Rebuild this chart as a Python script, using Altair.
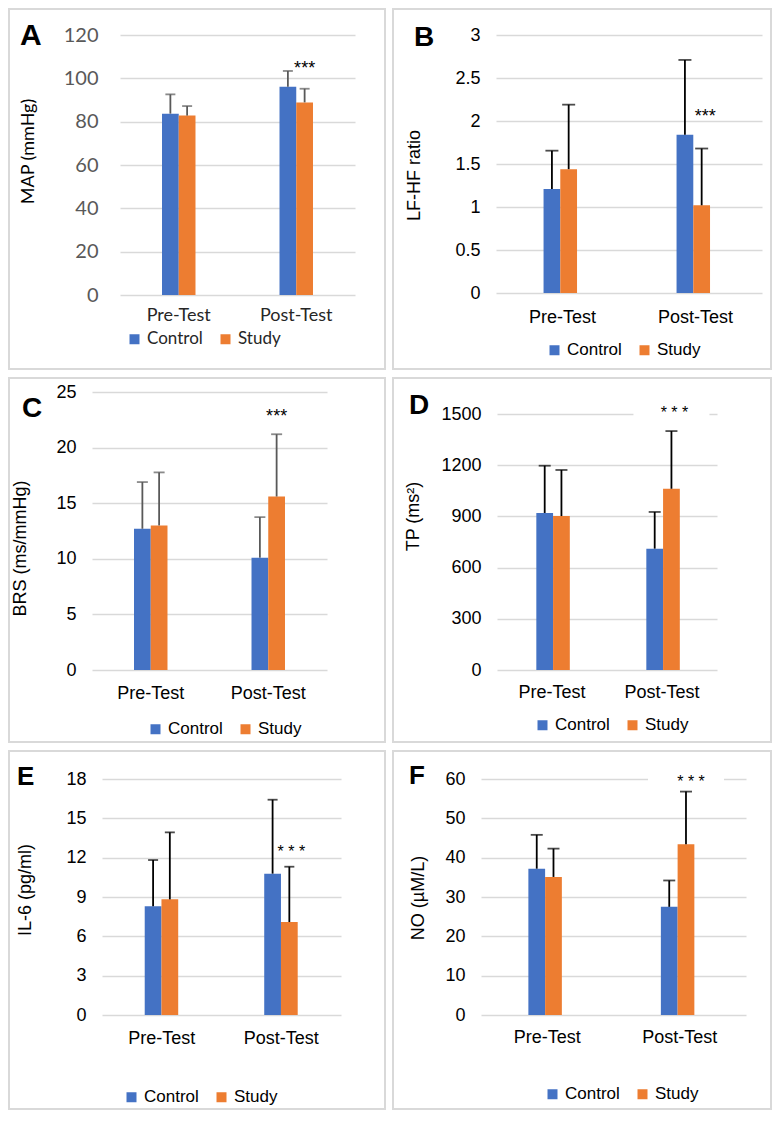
import altair as alt
import pandas as pd

phases = ["Pre-Test", "Post-Test"]
groups = ["Control", "Study"]
bar_colors = ["#4472C4", "#ED7D31"]

# Panel A: MAP (mmHg)
map_control = [83.7, 96.1]
map_study = [82.8, 88.9]
map_control_sd = [8.9, 7.3]
map_study_sd = [4.4, 6.3]
map_ticks = [0, 20, 40, 60, 80, 100, 120]
map_star = 102

# Panel B: LF-HF ratio
lfhf_control = [1.21, 1.84]
lfhf_study = [1.44, 1.02]
lfhf_control_sd = [0.445, 0.87]
lfhf_study_sd = [0.75, 0.66]
lfhf_ticks = [0, 0.5, 1, 1.5, 2, 2.5, 3]
lfhf_star = 1.99

# Panel C: BRS (ms/mmHg)
brs_control = [12.7, 10.1]
brs_study = [13.0, 15.6]
brs_control_sd = [4.2, 3.65]
brs_study_sd = [4.77, 5.6]
brs_ticks = [0, 5, 10, 15, 20, 25]
brs_star = 22.3

# Panel D: TP (ms2)
tp_control = [920, 711]
tp_study = [902, 1062]
tp_control_sd = [277, 215]
tp_study_sd = [270, 338]
tp_ticks = [0, 300, 600, 900, 1200, 1500]
tp_star = 1477
tp_box = [1450, 1590]

# Panel E: IL-6 (pg/ml)
il6_control = [8.29, 10.78]
il6_study = [8.82, 7.09]
il6_control_sd = [3.53, 5.64]
il6_study_sd = [5.11, 4.22]
il6_ticks = [0, 3, 6, 9, 12, 15, 18]
il6_star = 12.05

# Panel F: NO (uM/L)
no_control = [37.2, 27.5]
no_study = [35.1, 43.4]
no_control_sd = [8.6, 6.7]
no_study_sd = [7.2, 13.4]
no_ticks = [0, 10, 20, 30, 40, 50, 60]
no_star = 58.0
no_box = [57.8, 64]


def panel(ctrl, stud, ctrl_sd, stud_sd, ticks, star_y, box, title, letter, g):
    df = pd.DataFrame({
        "phase": [p for p in phases for _ in groups],
        "group": groups * 2,
        "mean": [ctrl[0], stud[0], ctrl[1], stud[1]],
        "sd": [ctrl_sd[0], stud_sd[0], ctrl_sd[1], stud_sd[1]],
    })
    df["top"] = df["mean"] + df["sd"]
    star_df = pd.DataFrame({"phase": ["Post-Test"], "group": ["Study"], "y": [star_y]})
    one = pd.DataFrame({"k": [0]})

    dx, dy, w, h, W, H = g["dx"], g["dy"], g["w"], g["h"], g["W"], g["H"]

    yscale = alt.Scale(domain=[ticks[0], ticks[-1]], range=[dy + h, dy], nice=False,
                       zero=True)
    xaxis = alt.Axis(title=None, labelAngle=0, domain=False, ticks=False, grid=False,
                     offset=-(H - dy - h),
                     labelPadding=g["xlp"], labelFont=g["font"], labelFontSize=g["xfs"],
                     labelColor=g["xcol"])
    xenc = alt.X("phase:N", sort=phases,
                 scale=alt.Scale(domain=phases, range=[dx, dx + w], paddingInner=0.715,
                                 paddingOuter=0.3575),
                 axis=xaxis)
    xoff = alt.XOffset("group:N", sort=groups,
                       scale=alt.Scale(domain=groups, paddingInner=0, paddingOuter=0))
    yaxis = alt.Axis(values=ticks, format="~r", title=title, grid=True, offset=-dx,
                     gridColor="#d9d9d9", gridWidth=1.3, domain=False, ticks=False,
                     labelPadding=g["ylp"], labelFont=g["font"], labelFontSize=g["yfs"],
                     labelColor=g["ycol"], titleFont=g["font"], titleFontSize=18,
                     titleFontWeight="normal", titleColor="#000000", titleAngle=270,
                     titleX=g["tx"], titleY=dy + g["ty"], titleAlign="center",
                     titleBaseline="middle")
    legend = alt.Legend(orient="none", legendX=dx + g["lx"], legendY=dy + g["ly"],
                        direction="horizontal", title=None, symbolType="square",
                        symbolSize=100, symbolStrokeWidth=0, symbolOpacity=1,
                        labelFont=g["font"], labelFontSize=17, labelColor=g["xcol"],
                        columnPadding=14, labelOffset=4, padding=0)

    def yenc(field):
        return alt.Y(field, scale=yscale, axis=yaxis)

    bars = alt.Chart(df).mark_bar().encode(
        x=xenc, xOffset=xoff, y=yenc("mean:Q"),
        color=alt.Color("group:N", sort=groups,
                        scale=alt.Scale(domain=groups, range=bar_colors), legend=legend),
    )
    layers = [bars]
    if box is not None:
        box_df = pd.DataFrame({"phase": ["Post-Test"], "group": ["Study"],
                               "lo": [box[0]], "hi": [box[1]]})
        layers.append(alt.Chart(box_df).mark_bar(color="white", width=76).encode(
            x=xenc, xOffset=xoff, y=yenc("lo:Q"), y2="hi:Q"))
    err = alt.Chart(df).mark_rule(color=g["ec"], strokeWidth=1.8).encode(
        x=xenc, xOffset=xoff, y=yenc("mean:Q"), y2="top:Q")
    cap = alt.Chart(df).mark_tick(color=g["ec"], thickness=1.8, size=g["cw"],
                                  orient="horizontal").encode(
        x=xenc, xOffset=xoff, y=yenc("top:Q"))
    star = alt.Chart(star_df).mark_text(
        text=g["st"], font="Liberation Sans", fontSize=g["sfs"], baseline="alphabetic",
        dx=g["sdx"], color="#000000").encode(
        x=xenc, xOffset=xoff, y=yenc("y:Q"))
    border = alt.Chart(one).mark_rect(fill="white", fillOpacity=0, stroke="#d9d9d9",
                                      strokeWidth=2).encode(
        x=alt.value(0), x2=alt.value(W), y=alt.value(0), y2=alt.value(H))
    lab = alt.Chart(one).mark_text(
        text=letter, font="Liberation Sans", fontSize=g["lfs"], fontWeight="bold",
        align="left", baseline="alphabetic", color="#000000").encode(
        x=alt.value(dx + g["ltx"]), y=alt.value(dy + g["lty"]))
    layers += [err, cap, star, border, lab]
    return alt.layer(*layers).properties(width=W, height=H)


common = dict(font="Liberation Sans", xfs=18, yfs=18, xcol="#000000", ycol="#000000",
              ylp=16, xlp=14, ec="#000000", st="***", sfs=18, lfs=28)

gA = dict(common, font="Lato", yfs=20, ycol="#595959", xcol="#262626", ylp=22,
          ec="#595959", cw=10, dx=111, dy=26, w=235, h=260, W=376, H=360,
          tx=-92, ty=116, lx=6, ly=295.5, ltx=-100, lty=10, lfs=30, sdx=0, xlp=11)
gB = dict(common, cw=13, dx=103, dy=26, w=266, h=258, W=378, H=360,
          tx=-82, ty=140, lx=50, ly=306.5, ltx=-82, lty=11, sdx=3.5, xlp=15)
gC = dict(common, ec="#595959", cw=11, dx=83, dy=14, w=235, h=278, W=376, H=364,
          tx=-72, ty=156, lx=55, ly=328.5, ltx=-70, lty=25, sdx=0)
gD = dict(common, cw=12, dx=104, dy=36, w=220, h=256, W=378, H=364,
          tx=-84, ty=102, lx=37, ly=302.5, ltx=-88, lty=0, st="* * *", sfs=16,
          sdx=3, xlp=13)
gE = dict(common, cw=10, dx=93, dy=28, w=239, h=236, W=376, H=358,
          tx=-77, ty=110.5, lx=21, ly=309.5, ltx=-85, lty=6, lfs=26, st="* * *",
          sfs=16, sdx=2)
gF = dict(common, cw=12, dx=88, dy=28, w=265, h=236, W=378, H=358,
          tx=-63, ty=118.5, lx=63, ly=306.5, ltx=-72, lty=5, lfs=26, st="* * *",
          sfs=16, sdx=5, xlp=13)

pA = panel(map_control, map_study, map_control_sd, map_study_sd, map_ticks, map_star,
           None, "MAP (mmHg)", "A", gA)
pB = panel(lfhf_control, lfhf_study, lfhf_control_sd, lfhf_study_sd, lfhf_ticks,
           lfhf_star, None, "LF-HF ratio", "B", gB)
pC = panel(brs_control, brs_study, brs_control_sd, brs_study_sd, brs_ticks, brs_star,
           None, "BRS (ms/mmHg)", "C", gC)
pD = panel(tp_control, tp_study, tp_control_sd, tp_study_sd, tp_ticks, tp_star,
           tp_box, "TP (ms²)", "D", gD)
pE = panel(il6_control, il6_study, il6_control_sd, il6_study_sd, il6_ticks, il6_star,
           None, "IL-6 (pg/ml)", "E", gE)
pF = panel(no_control, no_study, no_control_sd, no_study_sd, no_ticks, no_star,
           no_box, "NO (µM/L)", "F", gF)

chart = alt.concat(pA, pB, pC, pD, pE, pF, columns=2,
                   spacing={"row": 7, "column": 6}).resolve_scale(
    x="independent", y="independent", color="independent"
).resolve_legend(color="independent").properties(
    padding=0, background="white"
).configure_view(stroke=None)

chart.save("out.html", embed_options={"renderer": "svg", "actions": False})
